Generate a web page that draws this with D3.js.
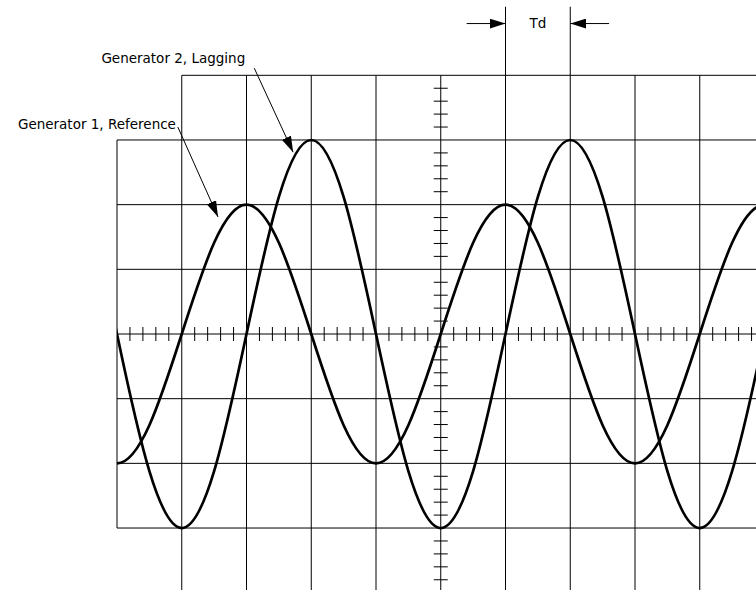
<!DOCTYPE html>
<html>
<head>
<meta charset="utf-8">
<script src="https://cdn.jsdelivr.net/npm/d3@7"></script>
<style>
  html, body { margin: 0; padding: 0; background: #fff; }
  svg { display: block; }
  text { font-family: "DejaVu Sans", Verdana, sans-serif; font-size: 13.5px; fill: #000; }
</style>
</head>
<body>
<svg id="chart" width="756" height="590"></svg>
<script>
// Time axis in graticule divisions (samples every half division)
const divisions = [-1, -0.5, 0, 0.5, 1, 1.5, 2, 2.5, 3, 3.5, 4, 4.5, 5, 5.5, 6, 6.5,
                   7, 7.5, 8, 8.5, 9, 9.5, 10, 10.5, 11];

// Generator 1 (reference), amplitude 2 divisions
const generator1 = [0, -1.41, -2, -1.41, 0, 1.41, 2, 1.41, 0, -1.41, -2, -1.41, 0,
                    1.41, 2, 1.41, 0, -1.41, -2, -1.41, 0, 1.41, 2, 1.41, 0];

// Generator 2 (lagging by one division), amplitude 3 divisions
const generator2 = [3, 2.12, 0, -2.12, -3, -2.12, 0, 2.12, 3, 2.12, 0, -2.12, -3,
                    -2.12, 0, 2.12, 3, 2.12, 0, -2.12, -3, -2.12, 0, 2.12, 3];

const labels = {
  gen1: "Generator 1, Reference",
  gen2: "Generator 2, Lagging",
  delay: "Td"
};

const svg = d3.select("#chart");

// One division is ~64.7 px on both axes
const x = d3.scaleLinear().domain([0, 10]).range([117, 764.5]);
const y = d3.scaleLinear().domain([-4, 4]).range([592.7, 75.3]);

const defs = svg.append("defs");
defs.append("clipPath").attr("id", "plotClip")
  .append("rect")
  .attr("x", x(0)).attr("y", 0)
  .attr("width", x(10) - x(0)).attr("height", 590);

defs.append("marker")
  .attr("id", "arrow")
  .attr("viewBox", "0 0 16 10")
  .attr("refX", 16).attr("refY", 5)
  .attr("markerWidth", 16).attr("markerHeight", 10)
  .attr("markerUnits", "userSpaceOnUse")
  .attr("orient", "auto")
  .append("path")
  .attr("d", "M0,0 L16,5 L0,10 Z")
  .attr("fill", "#000");

const grid = svg.append("g").attr("stroke", "#000").attr("stroke-width", 1).attr("fill", "none");

// Horizontal graticule lines
const rowLevels = [-3, -2, -1, 0, 1, 2, 3];
grid.selectAll("line.h").data(rowLevels).join("line")
  .attr("x1", x(0)).attr("x2", x(10))
  .attr("y1", d => y(d)).attr("y2", d => y(d));
// Outer top/bottom lines start at the first division
grid.selectAll("line.hOuter").data([-4, 4]).join("line")
  .attr("x1", x(1)).attr("x2", x(10))
  .attr("y1", d => y(d)).attr("y2", d => y(d));

// Vertical graticule lines
grid.append("line")
  .attr("x1", x(0)).attr("x2", x(0))
  .attr("y1", y(3)).attr("y2", y(-3));
const colLevels = [1, 2, 3, 4, 5, 6, 7, 8, 9, 10];
grid.selectAll("line.v").data(colLevels).join("line")
  .attr("x1", d => x(d)).attr("x2", d => x(d))
  .attr("y1", y(4)).attr("y2", y(-4));

// Minor ticks on the centre axes (5 per division)
const tickLen = 7;
const hTicks = d3.range(0, 50).map(i => i / 5).filter(d => d % 1 !== 0);
grid.selectAll("line.ht").data(hTicks).join("line")
  .attr("x1", d => x(d)).attr("x2", d => x(d))
  .attr("y1", y(0) - tickLen).attr("y2", y(0) + tickLen);
const vTicks = d3.range(-20, 21).map(i => i / 5).filter(d => Math.abs(d % 1) > 1e-9);
grid.selectAll("line.vt").data(vTicks).join("line")
  .attr("x1", x(5) - tickLen).attr("x2", x(5) + tickLen)
  .attr("y1", d => y(d)).attr("y2", d => y(d));

// Waveforms
const line = d3.line()
  .x(d => x(d[0]))
  .y(d => y(d[1]))
  .curve(d3.curveNatural);

const traces = svg.append("g").attr("clip-path", "url(#plotClip)");
[generator1, generator2].forEach(series => {
  traces.append("path")
    .datum(divisions.map((d, i) => [d, series[i]]))
    .attr("d", line)
    .attr("fill", "none")
    .attr("stroke", "#000")
    .attr("stroke-width", 2.7)
    .attr("stroke-linejoin", "round");
});

// Time-delay markers
const ann = svg.append("g").attr("stroke", "#000").attr("stroke-width", 1).attr("fill", "none");
const tdTop = 5.06, tdArrow = 4.8;
[6, 7].forEach(d => {
  ann.append("line")
    .attr("x1", x(d)).attr("x2", x(d))
    .attr("y1", y(tdTop)).attr("y2", y(4));
});
ann.append("line")
  .attr("x1", x(5.4)).attr("y1", y(tdArrow))
  .attr("x2", x(6)).attr("y2", y(tdArrow))
  .attr("marker-end", "url(#arrow)");
ann.append("line")
  .attr("x1", x(7.6)).attr("y1", y(tdArrow))
  .attr("x2", x(7)).attr("y2", y(tdArrow))
  .attr("marker-end", "url(#arrow)");
svg.append("text")
  .attr("x", x(6.5)).attr("y", y(4.73))
  .attr("text-anchor", "middle")
  .text(labels.delay);

// Trace labels with leader arrows
ann.append("line")
  .attr("x1", x(0.94)).attr("y1", y(3.2))
  .attr("x2", x(1.56)).attr("y2", y(1.81))
  .attr("marker-end", "url(#arrow)");
ann.append("line")
  .attr("x1", x(2.12)).attr("y1", y(4.11))
  .attr("x2", x(2.72)).attr("y2", y(2.81))
  .attr("marker-end", "url(#arrow)");

svg.append("text")
  .attr("x", x(0.91)).attr("y", y(3.17))
  .attr("text-anchor", "end")
  .text(labels.gen1);
svg.append("text")
  .attr("x", x(1.98)).attr("y", y(4.19))
  .attr("text-anchor", "end")
  .text(labels.gen2);
</script>
</body>
</html>
